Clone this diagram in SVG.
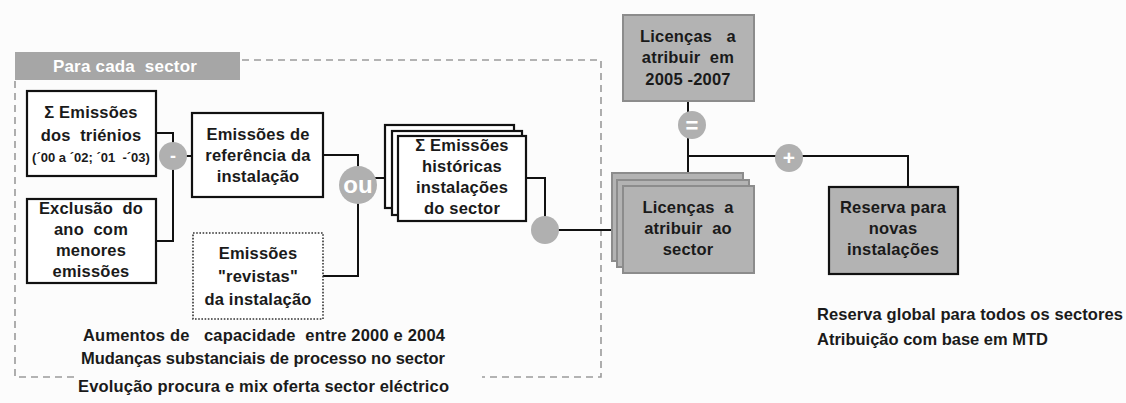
<svg xmlns="http://www.w3.org/2000/svg" width="1126" height="403" viewBox="0 0 1126 403" xml:space="preserve">
<style>
.t{font-family:"Liberation Sans",Arial,sans-serif;font-weight:bold;font-size:16.5px;fill:#1a1a1a;text-anchor:middle;letter-spacing:0.2px;white-space:pre}
.s{font-size:13px;letter-spacing:0}
.l{font-family:"Liberation Sans",Arial,sans-serif;font-weight:bold;font-size:16.5px;fill:#1a1a1a;white-space:pre}
.wb{fill:#fff;stroke:#111;stroke-width:2.2}
.gb{fill:#b3b3b3;stroke:#8c8c8c;stroke-width:2}
.op{fill:#b0b0b0}
.sym{font-family:"Liberation Sans",Arial,sans-serif;font-weight:bold;fill:#fff;text-anchor:middle}
.c{fill:none;stroke:#111;stroke-width:2}
</style>
<rect width="1126" height="403" fill="#fcfcfc"/>
<g id="sector-frame">
<path d="M242,60 H601 V377 H482 M74,377 H15 V80" fill="none" stroke="#9a9a9a" stroke-width="1.6" stroke-dasharray="7,5"/>
<rect x="15" y="52" width="225" height="28" fill="#a6a6a6"/>
<text class="t" x="125" y="72" style="fill:#fff;font-size:17px">Para cada  sector</text>
</g>
<g id="connectors">
<path class="c" d="M156,133 H173 V241 H156"/>
<path class="c" d="M173,156 H192"/>
<path class="c" d="M323,155 H358 V276 H323"/>
<path class="c" d="M358,178 H385"/>
<path class="c" d="M526,178 H545 V230 H623"/>
<path class="c" d="M688,101 V174"/>
<path class="c" d="M688,156 H908 V187"/>
</g>
<g id="n-triennia">
<rect class="wb" x="27" y="91" width="129" height="85"/>
<text class="t" x="91" y="118">Σ Emissões</text>
<text class="t" x="91" y="141">dos  triénios</text>
<text class="t s" x="91" y="162">(´00 a ´02; ´01  -´03)</text>
</g>
<g id="n-exclusion">
<rect class="wb" x="27" y="199" width="129" height="84"/>
<text class="t" x="91" y="214">Exclusão  do</text>
<text class="t" x="91" y="235">ano  com</text>
<text class="t" x="91" y="256">menores</text>
<text class="t" x="91" y="277">emissões</text>
</g>
<g id="op-minus">
<circle class="op" cx="173" cy="156" r="14"/>
<text class="sym" x="173" y="162" font-size="18">-</text>
</g>
<g id="n-reference">
<rect class="wb" x="192" y="113" width="131" height="84"/>
<text class="t" x="258" y="140">Emissões de</text>
<text class="t" x="258" y="161">referência da</text>
<text class="t" x="258" y="182">instalação</text>
</g>
<g id="n-revised">
<rect x="193" y="233" width="130" height="86" fill="#fff" stroke="#333" stroke-width="1.6" stroke-dasharray="1.6,1.6"/>
<text class="t" x="258" y="259">Emissões</text>
<text class="t" x="258" y="282">"revistas"</text>
<text class="t" x="258" y="305">da instalação</text>
</g>
<g id="op-or">
<circle class="op" cx="358" cy="185" r="19"/>
<text class="sym" x="358" y="193" font-size="24">ou</text>
</g>
<g id="n-historic">
<rect class="wb" x="385" y="125" width="129" height="83"/>
<rect class="wb" x="392" y="131" width="130" height="84"/>
<rect class="wb" x="398" y="136" width="128" height="85"/>
<text class="t" x="462" y="151">Σ Emissões</text>
<text class="t" x="462" y="172">históricas</text>
<text class="t" x="462" y="193">instalações</text>
<text class="t" x="462" y="214">do sector</text>
</g>
<g id="op-sum">
<circle class="op" cx="545" cy="230" r="14"/>
</g>
<g id="n-total">
<rect class="gb" x="623" y="15" width="131" height="86"/>
<text class="t" x="688" y="42">Licenças   a</text>
<text class="t" x="688" y="63">atribuir  em</text>
<text class="t" x="688" y="85">2005 -2007</text>
</g>
<g id="op-equals">
<circle class="op" cx="692" cy="125" r="14"/>
<text class="sym" x="692" y="133" font-size="22">=</text>
</g>
<g id="op-plus">
<circle class="op" cx="789" cy="158" r="14"/>
<text class="sym" x="789" y="165" font-size="21">+</text>
</g>
<g id="n-sector">
<rect class="gb" x="612" y="173" width="131" height="88"/>
<rect class="gb" x="617" y="180" width="132" height="87"/>
<rect class="gb" x="623" y="186" width="131" height="87"/>
<text class="t" x="688" y="213">Licenças  a</text>
<text class="t" x="688" y="234">atribuir  ao</text>
<text class="t" x="688" y="255">sector</text>
</g>
<g id="n-reserve">
<rect x="829" y="187" width="129" height="87" fill="#b3b3b3" stroke="#111" stroke-width="2.2"/>
<text class="t" x="893" y="213">Reserva para</text>
<text class="t" x="893" y="234">novas</text>
<text class="t" x="893" y="255">instalações</text>
</g>
<g id="notes">
<text class="l" x="83" y="341" textLength="362" lengthAdjust="spacing">Aumentos de   capacidade  entre 2000 e 2004</text>
<text class="l" x="81" y="364" textLength="364" lengthAdjust="spacing">Mudanças substanciais de processo no sector</text>
<text class="l" x="78" y="392" textLength="371" lengthAdjust="spacing">Evolução procura e mix oferta sector eléctrico</text>
<text class="l" x="817" y="320" textLength="306" lengthAdjust="spacing">Reserva global para todos os sectores</text>
<text class="l" x="817" y="345" textLength="231" lengthAdjust="spacing">Atribuição com base em MTD</text>
</g>
</svg>
